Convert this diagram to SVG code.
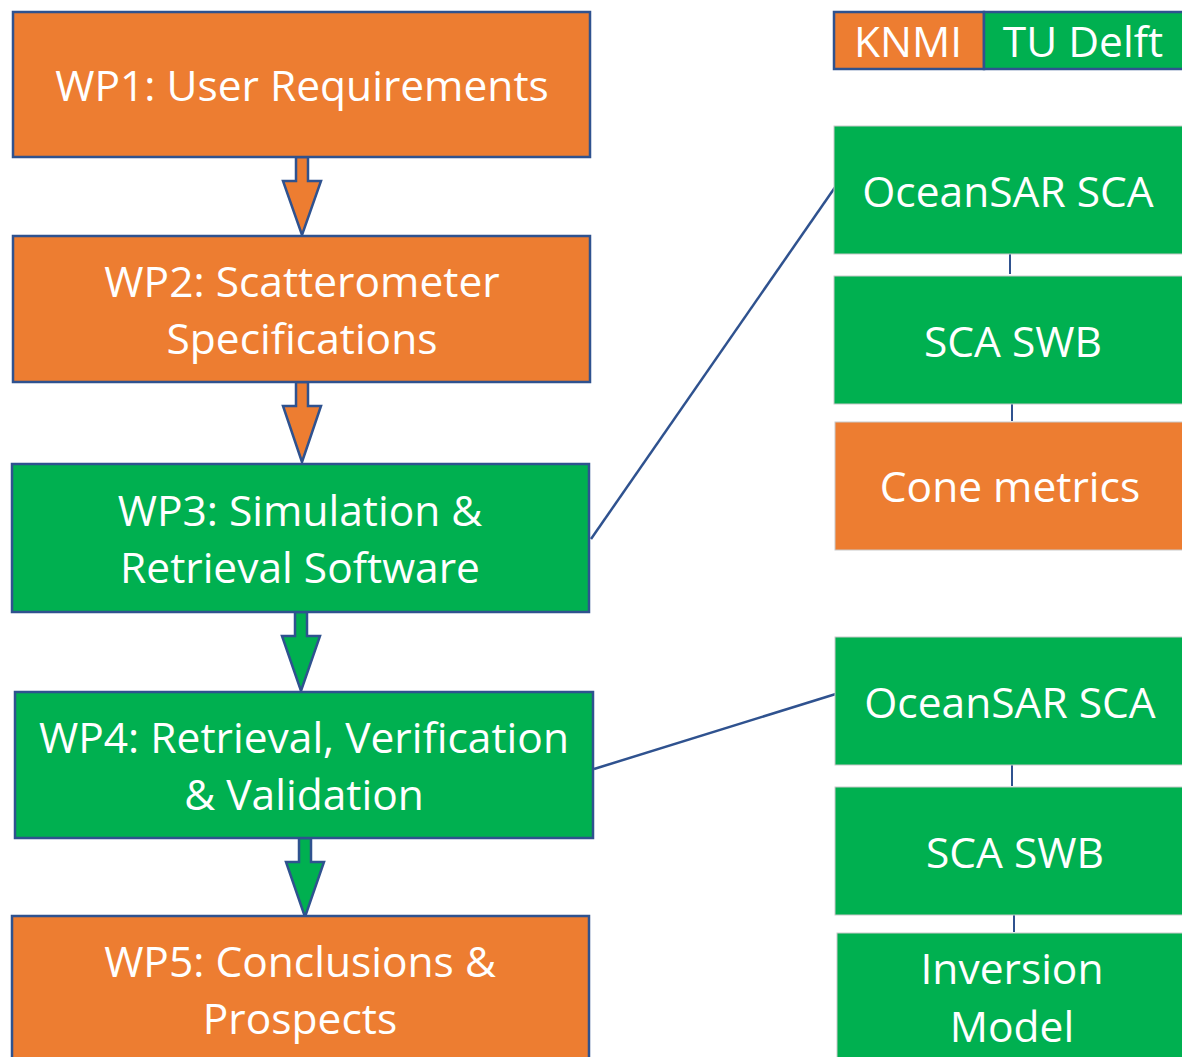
<svg xmlns="http://www.w3.org/2000/svg" width="1182" height="1057" viewBox="0 0 1182 1057">
  <style>
    .wp { stroke: #2F528F; stroke-width: 2.5; }
    .sub { stroke: #c9c9c9; stroke-width: 1; }
    .orange { fill: #ED7D31; }
    .green { fill: #00B050; }
    .lbl { font-family: "Open Sans", "Noto Sans", "Liberation Sans", sans-serif; font-size: 42.5px; fill: #ffffff; text-anchor: middle; }
    .link { stroke: #2F528F; stroke-width: 2.5; fill: none; }
    .tick { stroke: #2F528F; stroke-width: 2; fill: none; }
    .arrow { stroke: #2F528F; stroke-width: 2.5; stroke-linejoin: miter; }
  </style>
  <rect width="1182" height="1057" fill="#ffffff"/>

  <!-- legend -->
  <g id="legend">
    <rect class="wp orange" x="834" y="12" width="150" height="57"/>
    <rect class="wp green" x="984" y="12" width="204" height="57"/>
    <text class="lbl" x="908" y="57">KNMI</text>
    <text class="lbl" x="1083" y="57">TU Delft</text>
  </g>

  <!-- connectors -->
  <g id="connectors">
    <path class="arrow orange" d="M296,157 V181 H283 L302,235 L321,181 H308 V157 Z"/>
    <path class="arrow orange" d="M296,382 V406 H283 L302,462 L321,406 H308 V382 Z"/>
    <path class="arrow green" d="M295,612 V636 H282 L301,691 L320,636 H307 V612 Z"/>
    <path class="arrow green" d="M299,838 V862 H286 L305,917 L324,862 H311 V838 Z"/>
    <line class="link" x1="591" y1="539" x2="838" y2="183"/>
    <line class="link" x1="594" y1="769" x2="839" y2="693"/>
    <line class="tick" x1="1010" y1="254" x2="1010" y2="274"/>
    <line class="tick" x1="1012" y1="401" x2="1012" y2="421"/>
    <line class="tick" x1="1012" y1="765" x2="1012" y2="786"/>
    <line class="tick" x1="1014" y1="912" x2="1014" y2="932"/>
  </g>

  <!-- work packages -->
  <g id="wp1">
    <rect class="wp orange" x="13" y="12" width="577" height="145"/>
    <text class="lbl" x="302" y="101">WP1: User Requirements</text>
  </g>
  <g id="wp2">
    <rect class="wp orange" x="13" y="236" width="577" height="146"/>
    <text class="lbl" x="302" y="297">WP2: Scatterometer</text>
    <text class="lbl" x="302" y="354">Specifications</text>
  </g>
  <g id="wp3">
    <rect class="wp green" x="12" y="464" width="577" height="148"/>
    <text class="lbl" x="300" y="526">WP3: Simulation &amp;</text>
    <text class="lbl" x="300" y="583">Retrieval Software</text>
  </g>
  <g id="wp4">
    <rect class="wp green" x="15" y="692" width="578" height="146"/>
    <text class="lbl" x="304" y="753">WP4: Retrieval, Verification</text>
    <text class="lbl" x="304" y="810">&amp; Validation</text>
  </g>
  <g id="wp5">
    <rect class="wp orange" x="12" y="916" width="577" height="150"/>
    <text class="lbl" x="300" y="977">WP5: Conclusions &amp;</text>
    <text class="lbl" x="300" y="1034">Prospects</text>
  </g>

  <!-- WP3 components -->
  <g id="wp3-oceansar">
    <rect class="sub green" x="834" y="126" width="350" height="128"/>
    <text class="lbl" x="1008" y="207">OceanSAR SCA</text>
  </g>
  <g id="wp3-swb">
    <rect class="sub green" x="834" y="276" width="350" height="128"/>
    <text class="lbl" x="1013" y="357">SCA SWB</text>
  </g>
  <g id="wp3-cone">
    <rect class="sub orange" x="835" y="422" width="349" height="128"/>
    <text class="lbl" x="1010" y="502">Cone metrics</text>
  </g>

  <!-- WP4 components -->
  <g id="wp4-oceansar">
    <rect class="sub green" x="835" y="637" width="349" height="128"/>
    <text class="lbl" x="1010" y="718">OceanSAR SCA</text>
  </g>
  <g id="wp4-swb">
    <rect class="sub green" x="835" y="787" width="349" height="128"/>
    <text class="lbl" x="1015" y="868">SCA SWB</text>
  </g>
  <g id="wp4-inversion">
    <rect class="sub green" x="837" y="933" width="347" height="130"/>
    <text class="lbl" x="1012" y="984">Inversion</text>
    <text class="lbl" x="1012" y="1042">Model</text>
  </g>
</svg>
